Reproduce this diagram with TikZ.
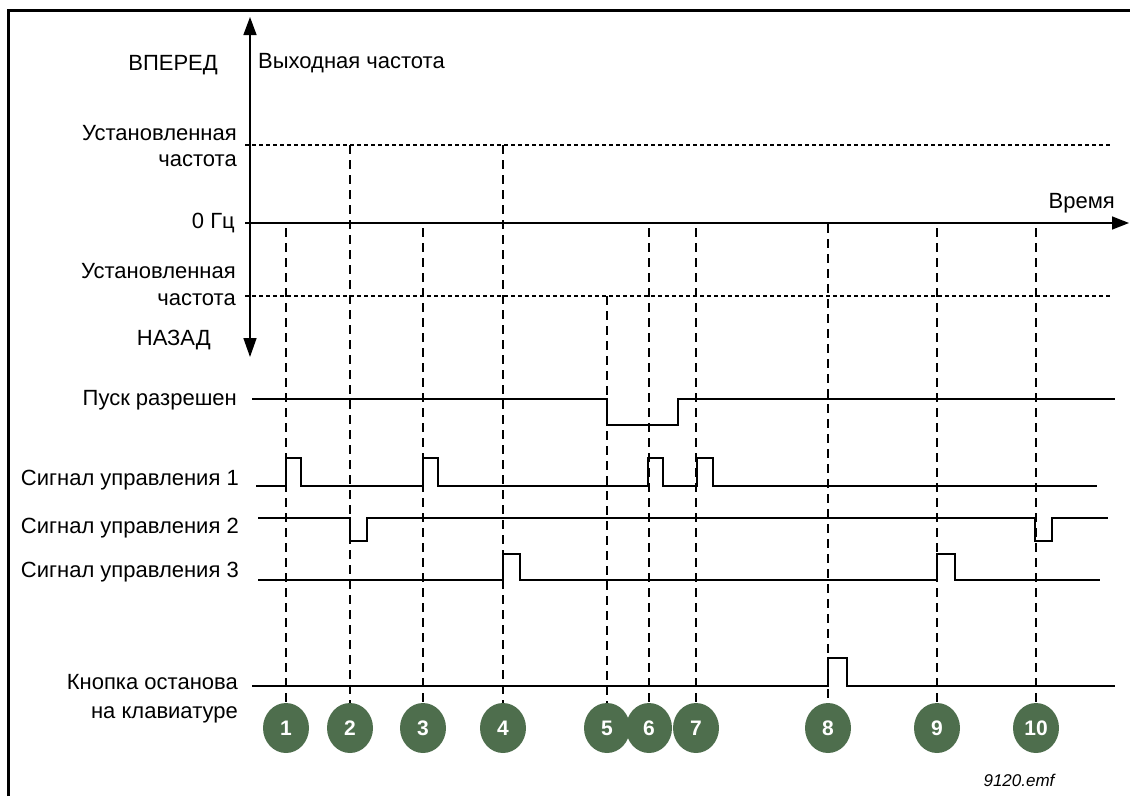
\documentclass[tikz,border=0pt]{standalone}
\usepackage{fontspec}
\setmainfont{Liberation Sans}
\usetikzlibrary{arrows.meta,positioning,shapes.geometric}
\definecolor{markgreen}{HTML}{4E6E4D}
\definecolor{frameline}{HTML}{000000}

\begin{document}
\begin{tikzpicture}[x=1pt,y=-1pt,font=\fontsize{22}{26}\selectfont,
 lbl/.style={anchor=base east,inner sep=0pt},
 sig/.style={line width=2.8pt,line join=miter},
 level/.style={line width=1.2pt,dash pattern=on 4pt off 3pt},
 guide/.style={line width=1.3pt,dash pattern=on 9pt off 6pt},
 axis/.style={line width=1.5pt},
 tmark/.style={ellipse,fill=markgreen,text=white,minimum width=46pt,minimum height=50pt,
  inner sep=0pt,font=\fontsize{21}{21}\selectfont\bfseries}]
\useasboundingbox (0,0) rectangle (1130,796);
\draw[frameline,line width=3.5pt] (8.5,796) -- (8.5,10.5) -- (1130,10.5);
% axes
\coordinate (ytop) at (250,17); \coordinate (ybot) at (250,357);
\coordinate (xl) at (245,223); \coordinate (xr) at (1129,223);
\draw[axis,{Triangle[length=19pt,width=13pt]}-{Triangle[length=18pt,width=13pt]}] (ybot) -- (ytop);
\draw[axis,-{Triangle[length=17pt,width=13pt]}] (xl) -- (xr);
\draw[level] (245,145) -- (1110,145) (245,296) -- (1110,296);
% labels
\node[lbl] (fwd) at (218,70) {ВПЕРЕД};
\node[anchor=base west,inner sep=0pt] (fout) at (258,68) {Выходная частота};
\node[lbl] (set1) at (237,140) {Установленная};
\node[lbl] (set1b) at (237,166) {частота};
\node[lbl] (zero) at (235,228) {0 Гц};
\node[lbl] (set2) at (236,278) {Установленная};
\node[lbl] (set2b) at (236,305) {частота};
\node[lbl] (rev) at (211,345) {НАЗАД};
\node[lbl] (time) at (1115,208) {Время};
\node[lbl] (run) at (237,405) {Пуск разрешен};
\node[lbl] (ctl1) at (239,485) {Сигнал управления 1};
\node[lbl] (ctl2) at (239,533) {Сигнал управления 2};
\node[lbl] (ctl3) at (239,577) {Сигнал управления 3};
\node[lbl] (stop) at (238,689) {Кнопка останова};
\node[lbl] (stopb) at (238,718) {на клавиатуре};
% signals
\draw[sig] (252,399) -| (607,425) -| (678,399) -- (1115,399);
\draw[sig] (256,486) foreach \a/\b in {286/301,423/438,648/663,697/713} { -| (\a,458) -| (\b,486) } -- (1097,486);
\draw[sig] (258,518) foreach \a/\b in {350/367,1035/1052} { -| (\a,541) -| (\b,518) } -- (1108,518);
\draw[sig] (258,580) foreach \a/\b in {503/520,937/955} { -| (\a,554) -| (\b,580) } -- (1100,580);
\draw[sig] (252,686) -| (828,658) -| (847,686) -- (1115,686);
% time marks
\foreach \i/\x/\y in {1/286/228,2/350/145,3/423/228,4/503/145,5/607/296,6/649/228,7/696/228,8/828/224,9/937/228,10/1036/228} {
 \node[tmark] (m\i) at (\x,728) {\i};
 \coordinate (g\i) at (\x,\y);
 \draw[guide] (g\i) -- (m\i);
}
\node[font=\fontsize{17}{17}\selectfont\itshape] (src) at (1019,780) {9120.emf};
\end{tikzpicture}
\end{document}
